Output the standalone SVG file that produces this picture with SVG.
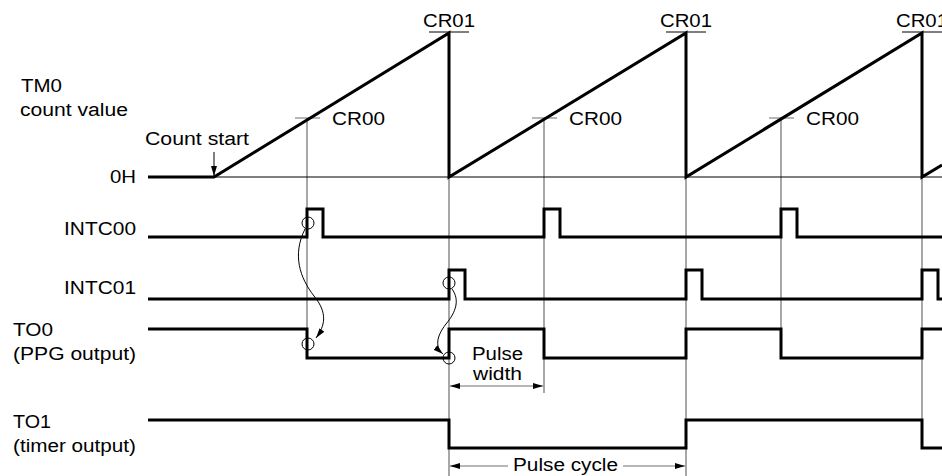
<svg xmlns="http://www.w3.org/2000/svg" width="942" height="476" viewBox="0 0 942 476">
<style>
text{font-family:"Liberation Sans",Arial,sans-serif;font-size:18px;fill:#000}
.sig{fill:none;stroke:#000;stroke-width:3;stroke-linejoin:miter;stroke-linecap:butt}
.g{fill:none;stroke:#6e6e6e;stroke-width:1.2}
.thin{fill:none;stroke:#000;stroke-width:1.2}
.c{fill:none;stroke:#000;stroke-width:1}
</style>
<defs>
<marker id="ah" viewBox="0 0 10 6" refX="10" refY="3" markerWidth="10" markerHeight="6" markerUnits="userSpaceOnUse" orient="auto-start-reverse"><path d="M0,0 L10,3 L0,6 Z" fill="#000"/></marker>
</defs>
<g id="labels">
<text x="21" y="92" textLength="41" lengthAdjust="spacingAndGlyphs">TM0</text>
<text x="20" y="116" textLength="108" lengthAdjust="spacingAndGlyphs">count value</text>
<text x="145" y="145" textLength="104" lengthAdjust="spacingAndGlyphs">Count start</text>
<text x="110" y="183" textLength="26" lengthAdjust="spacingAndGlyphs">0H</text>
<text x="64" y="235" textLength="72" lengthAdjust="spacingAndGlyphs">INTC00</text>
<text x="64" y="294" textLength="72" lengthAdjust="spacingAndGlyphs">INTC01</text>
<text x="13" y="336" textLength="40" lengthAdjust="spacingAndGlyphs">TO0</text>
<text x="13" y="360" textLength="123" lengthAdjust="spacingAndGlyphs">(PPG output)</text>
<text x="13" y="428" textLength="38" lengthAdjust="spacingAndGlyphs">TO1</text>
<text x="13" y="452" textLength="123" lengthAdjust="spacingAndGlyphs">(timer output)</text>
</g>
<g id="gridlines">
<path class="g" d="M295,118H320M532,118H557M769,118H794"/>
<path class="thin" d="M429,32H469M666,32H706M902,32H942"/>
<path class="g" d="M307,118V358M449,33V476M544,118V393M686,33V476M781,118V358M922,33V448"/>
<path class="thin" d="M214,177H942"/>
</g>
<g id="tm0">
<path class="sig" d="M148,177H214L449,33V177L686,33V177L922,33V177L942,165"/>
<text x="423" y="27" textLength="52" lengthAdjust="spacingAndGlyphs">CR01</text>
<text x="660" y="27" textLength="52" lengthAdjust="spacingAndGlyphs">CR01</text>
<text x="896" y="27" textLength="52" lengthAdjust="spacingAndGlyphs">CR01</text>
<text x="332" y="125" textLength="53" lengthAdjust="spacingAndGlyphs">CR00</text>
<text x="569" y="125" textLength="53" lengthAdjust="spacingAndGlyphs">CR00</text>
<text x="806" y="125" textLength="53" lengthAdjust="spacingAndGlyphs">CR00</text>
</g>
<g id="intc00"><path class="sig" d="M148,237H307V209H323V237H544V209H560V237H781V209H797V237H942"/></g>
<g id="intc01"><path class="sig" d="M148,299H449V270H465V299H686V270H702V299H922V270H938V299H942"/></g>
<g id="to0"><path class="sig" d="M148,329H307V358H449V329H544V358H686V329H781V358H922V329H942"/></g>
<g id="to1"><path class="sig" d="M148,420H449V448H686V420H922V448H942"/></g>
<g id="connectors">
<path class="c" d="M214,152V176" marker-end="url(#ah)"/>
<circle class="c" cx="308" cy="223" r="6"/>
<circle class="c" cx="308" cy="344" r="6"/>
<circle class="c" cx="449" cy="283" r="6"/>
<circle class="c" cx="449" cy="358" r="6"/>
<path class="c" d="M305,229C292,255 300,278 314,296C328,313 325,326 316,338" marker-end="url(#ah)"/>
<path class="c" d="M452,289C460,300 456,312 446,324C435,338 436,348 443,354" marker-end="url(#ah)"/>
<path class="g" d="M450,386H543" marker-start="url(#ah)" marker-end="url(#ah)"/>
<path class="g" d="M450,466H508M623,466H685" marker-start="url(#ah)" marker-end="url(#ah)"/>
<text x="472" y="360" textLength="51" lengthAdjust="spacingAndGlyphs">Pulse</text>
<text x="473" y="380" textLength="49" lengthAdjust="spacingAndGlyphs">width</text>
<text x="513" y="471" textLength="105" lengthAdjust="spacingAndGlyphs">Pulse cycle</text>
</g>
</svg>
